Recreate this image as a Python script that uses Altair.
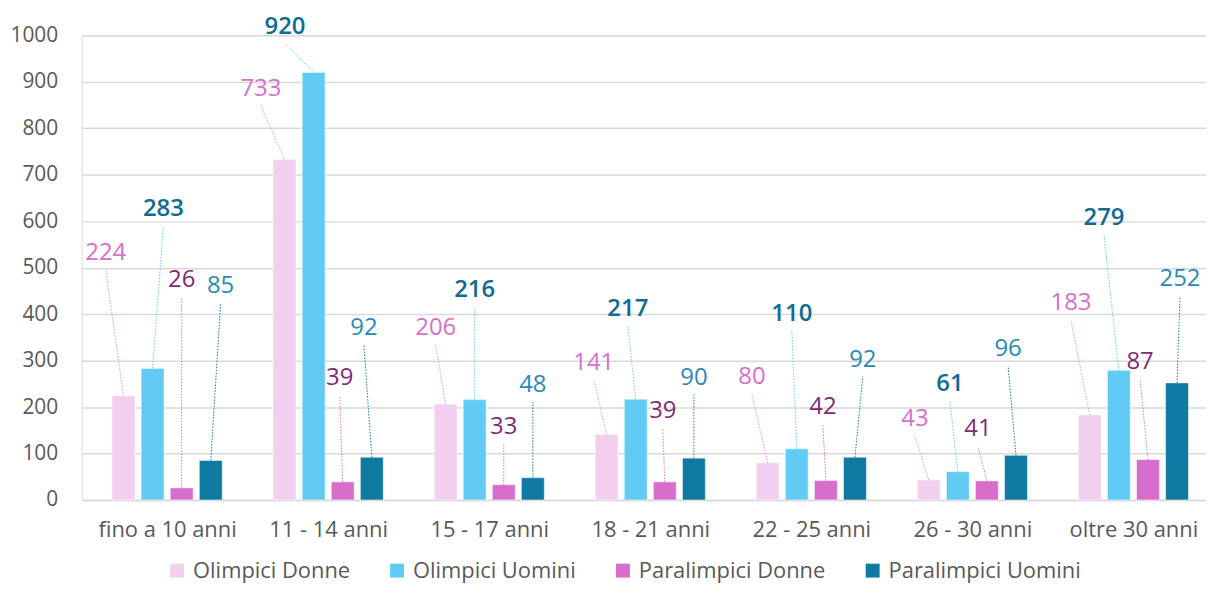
import altair as alt
import pandas as pd

# ---------------- data ----------------
categories = ["fino a 10 anni", "11 - 14 anni", "15 - 17 anni", "18 - 21 anni",
              "22 - 25 anni", "26 - 30 anni", "oltre 30 anni"]
series = ["Olimpici Donne", "Olimpici Uomini", "Paralimpici Donne", "Paralimpici Uomini"]

olimpici_donne = [224, 733, 206, 141, 80, 43, 183]
olimpici_uomini = [283, 920, 216, 217, 110, 61, 279]
paralimpici_donne = [26, 39, 33, 39, 42, 41, 87]
paralimpici_uomini = [85, 92, 48, 90, 92, 96, 252]
values = [olimpici_donne, olimpici_uomini, paralimpici_donne, paralimpici_uomini]

# ---------------- styles ----------------
bar_colors = ["#F2CEEF", "#61CBF3", "#D86ECC", "#0E7AA1"]
label_colors = ["#D86ECC", "#0F6B92", "#7F2A77", "#2A8AB5"]
label_weights = ["normal", 600, "normal", "normal"]
leader_colors = ["#E38FDA", "#61CBF3", "#D86ECC", "#0E7AA1"]

# manually placed data labels: offsets in px from the top-centre of each bar
label_dx = [
    [-18, -24, -10, -13, -16, -14, -19],
    [11, -29, 0, -8, -5, -8, -15],
    [0, -3, 0, -2, -3, -9, -8],
    [10, -8, 0, 0, 8, -8, 3],
]
label_rise = [
    [144, 71, 77, 72, 86, 61, 112],
    [160, 46, 110, 91, 136, 88, 153],
    [209, 104, 58, 71, 74, 52, 98],
    [175, 130, 93, 81, 98, 107, 104],
]

# ---------------- layout ----------------
W, H = 1130, 467
X_DOMAIN = [-0.5, 6.42]
Y_DOMAIN = [0, 1000]
px_x = W / (X_DOMAIN[1] - X_DOMAIN[0])
px_y = H / (Y_DOMAIN[1] - Y_DOMAIN[0])
BAR_STEP = 29.5      # px between bar centres within a group
BAR_W = 23
LEADER_GAP = 17      # px between label centre and top of leader line
FONT = "Open Sans"

rows = []
for j, s in enumerate(series):
    for i, c in enumerate(categories):
        v = values[j][i]
        bx = i + (j - 1.5) * BAR_STEP / px_x
        lx = bx + label_dx[j][i] / px_x
        ly = v + label_rise[j][i] / px_y
        rows.append(dict(series=s, cat=c, value=v, bx=bx, lx=lx, ly=ly,
                         ltop=ly - LEADER_GAP / px_y, label=str(v)))
df = pd.DataFrame(rows)

xscale = alt.Scale(domain=X_DOMAIN, nice=False, zero=False)
yscale = alt.Scale(domain=Y_DOMAIN, nice=False)

cat_expr = "[" + ",".join("'" + c + "'" for c in categories) + "][datum.value]"

bars = alt.Chart(df).mark_bar(width=BAR_W, stroke="white", strokeWidth=1, strokeOpacity=0.5).encode(
    x=alt.X("bx:Q", scale=xscale,
            axis=alt.Axis(values=list(range(len(categories))), labelExpr=cat_expr,
                          title=None, grid=False, ticks=False, domain=True,
                          domainColor="#D9D9D9", domainWidth=1.5,
                          labelFontSize=22, labelColor="#595959", labelPadding=20,
                          labelFont=FONT)),
    y=alt.Y("value:Q", scale=yscale,
            axis=alt.Axis(values=list(range(0, 1001, 100)), format="d", title=None, ticks=False,
                          domain=False, gridColor="#D9D9D9", gridWidth=1.5,
                          labelFontSize=21, labelColor="#595959", labelPadding=24,
                          labelFont=FONT)),
    color=alt.Color("series:N", scale=alt.Scale(domain=series, range=bar_colors),
                    legend=alt.Legend(title=None, orient="none", legendX=85, legendY=527,
                                      direction="horizontal", columns=4,
                                      symbolType="square", symbolSize=196,
                                      symbolStrokeWidth=0, labelFontSize=22,
                                      labelColor="#595959", labelFont=FONT,
                                      labelOffset=5, columnPadding=36, labelLimit=400)),
)

layers = [bars]
for j, s in enumerate(series):
    sub = df[df.series == s]
    leader = alt.Chart(sub).mark_rule(strokeDash=[1.5, 1.5], strokeWidth=1,
                                      color=leader_colors[j]).encode(
        x=alt.X("bx:Q", scale=xscale), y=alt.Y("value:Q", scale=yscale),
        x2="lx:Q", y2="ltop:Q")
    text = alt.Chart(sub).mark_text(fontSize=24, font=FONT, color=label_colors[j],
                                    fontWeight=label_weights[j], baseline="middle",
                                    align="center").encode(
        x=alt.X("lx:Q", scale=xscale), y=alt.Y("ly:Q", scale=yscale), text="label:N")
    layers += [leader, text]

chart = alt.layer(*layers).properties(
    width=W, height=H,
    autosize=alt.AutoSizeParams(type="none"),
    padding={"left": 74, "top": 26, "right": 0, "bottom": 85},
).configure_view(stroke=None).configure(font=FONT)

chart.save("out.html", embed_options={"renderer": "svg", "actions": False})
